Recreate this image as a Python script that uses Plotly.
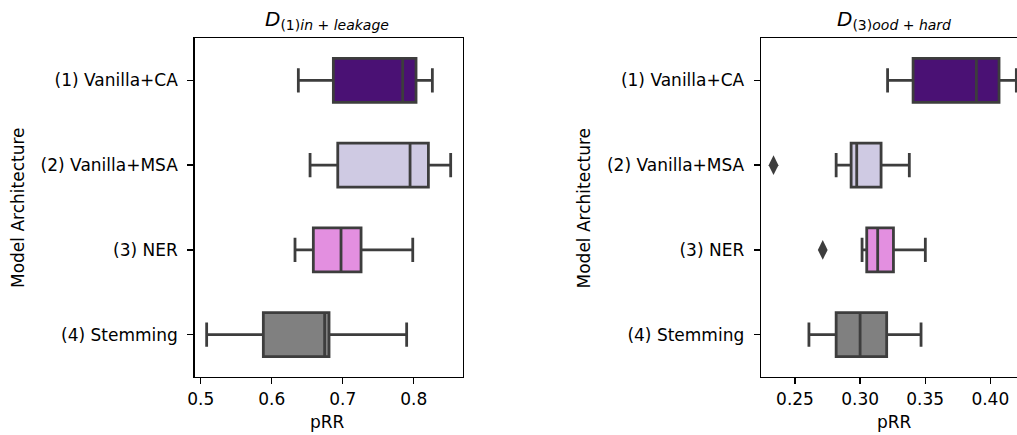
import plotly.graph_objects as go

categories = ["(1) Vanilla+CA", "(2) Vanilla+MSA", "(3) NER", "(4) Stemming"]
colors = ["#4a1174", "#cfcae3", "#e38fe0", "#808080"]

# Left panel: D(1) in + leakage
left_low = [0.6375, 0.654, 0.6328, 0.5084]
left_q1 = [0.6868, 0.693, 0.6586, 0.5882]
left_med = [0.7844, 0.7948, 0.6976, 0.6745]
left_q3 = [0.8032, 0.8206, 0.7258, 0.6807]
left_high = [0.8262, 0.852, 0.7986, 0.790]

# Right panel: D(3) ood + hard
right_low = [0.3211, 0.2816, 0.3015, 0.2607]
right_q1 = [0.3407, 0.2931, 0.3051, 0.2816]
right_med = [0.3893, 0.2974, 0.3135, 0.3000]
right_q3 = [0.4067, 0.3161, 0.3256, 0.3204]
right_high = [0.4200, 0.3378, 0.3501, 0.3468]
right_outlier_cat = ["(2) Vanilla+MSA", "(3) NER"]
right_outlier_val = [0.2335, 0.2713]

x_ticks_left = [0.5, 0.6, 0.7, 0.8]
x_ticks_right = [0.25, 0.30, 0.35, 0.40]

edge = "#3d3d3d"
font_family = "DejaVu Sans"
fs = 17

fig = go.Figure()

for i, cat in enumerate(categories):
    fig.add_trace(go.Box(
        y=[cat], q1=[left_q1[i]], median=[left_med[i]], q3=[left_q3[i]],
        lowerfence=[left_low[i]], upperfence=[left_high[i]],
        orientation="h", fillcolor=colors[i],
        line=dict(color=edge, width=2.8), width=0.52, whiskerwidth=0.55,
        boxpoints=False, showlegend=False, xaxis="x", yaxis="y", hoverinfo="skip"))
    fig.add_trace(go.Box(
        y=[cat], q1=[right_q1[i]], median=[right_med[i]], q3=[right_q3[i]],
        lowerfence=[right_low[i]], upperfence=[right_high[i]],
        orientation="h", fillcolor=colors[i],
        line=dict(color=edge, width=2.8), width=0.52, whiskerwidth=0.55,
        boxpoints=False, showlegend=False, xaxis="x2", yaxis="y2", hoverinfo="skip"))

fig.add_trace(go.Scatter(
    x=right_outlier_val, y=right_outlier_cat, mode="markers",
    marker=dict(symbol="diamond-tall", size=14, color=edge, line=dict(width=0)),
    showlegend=False, xaxis="x2", yaxis="y2", hoverinfo="skip"))

ax_common = dict(showline=True, linecolor="black", linewidth=1.4, ticks="outside",
                 ticklen=6, tickwidth=1.3, tickcolor="black", showgrid=False, zeroline=False,
                 automargin=False,
                 tickfont=dict(family=font_family, size=fs, color="black"))

ytop, ybot = 0.9126, 0.1333

fig.update_layout(
    width=1017, height=435,
    margin=dict(l=0, r=0, t=0, b=0),
    paper_bgcolor="white", plot_bgcolor="white",
    boxmode="overlay",
    hovermode=False,
    font=dict(family=font_family, size=fs, color="black"),
    xaxis=dict(domain=[0.1914, 0.4553], range=[0.4915, 0.8694], tickvals=x_ticks_left,
               ticktext=[f"{v:.1f}" for v in x_ticks_left], mirror=True, anchor="y", **ax_common),
    yaxis=dict(domain=[ybot, ytop], type="category", categoryarray=categories,
               range=[3.5, -0.5], mirror=True, anchor="x", ticklabelstandoff=6, **ax_common),
    xaxis2=dict(domain=[0.7483, 1.0], range=[0.2239, 0.4205], tickvals=x_ticks_right,
                ticktext=[f"{v:.2f}" for v in x_ticks_right], mirror=True, anchor="y2", **ax_common),
    yaxis2=dict(domain=[ybot, ytop], type="category", categoryarray=categories,
                range=[3.5, -0.5], mirror=False, anchor="x2", ticklabelstandoff=6, **ax_common),
    annotations=[
        dict(text="<i>D</i><sub>(1)<i>in + leakage</i></sub>", x=0.322, y=ytop,
             xref="paper", yref="paper", xanchor="center", yanchor="bottom", yshift=3,
             showarrow=False, font=dict(family=font_family, size=20, color="black")),
        dict(text="<i>D</i><sub>(3)<i>ood + hard</i></sub>", x=0.879, y=ytop,
             xref="paper", yref="paper", xanchor="center", yanchor="bottom", yshift=3,
             showarrow=False, font=dict(family=font_family, size=20, color="black")),
        dict(text="Model Architecture", x=0.0182, y=0.523, textangle=-90,
             xref="paper", yref="paper", xanchor="center", yanchor="middle",
             showarrow=False, font=dict(family=font_family, size=fs, color="black")),
        dict(text="Model Architecture", x=0.5752, y=0.523, textangle=-90,
             xref="paper", yref="paper", xanchor="center", yanchor="middle",
             showarrow=False, font=dict(family=font_family, size=fs, color="black")),
        dict(text="pRR", x=0.3225, y=0.0, yshift=1,
             xref="paper", yref="paper", xanchor="center", yanchor="bottom",
             showarrow=False, font=dict(family=font_family, size=fs, color="black")),
        dict(text="pRR", x=0.880, y=0.0, yshift=1,
             xref="paper", yref="paper", xanchor="center", yanchor="bottom",
             showarrow=False, font=dict(family=font_family, size=fs, color="black")),
    ],
)

fig.write_html("out.html", config={"displayModeBar": False, "staticPlot": True},
               post_script="document.body.style.margin='0px';document.body.style.overflow='hidden';")
